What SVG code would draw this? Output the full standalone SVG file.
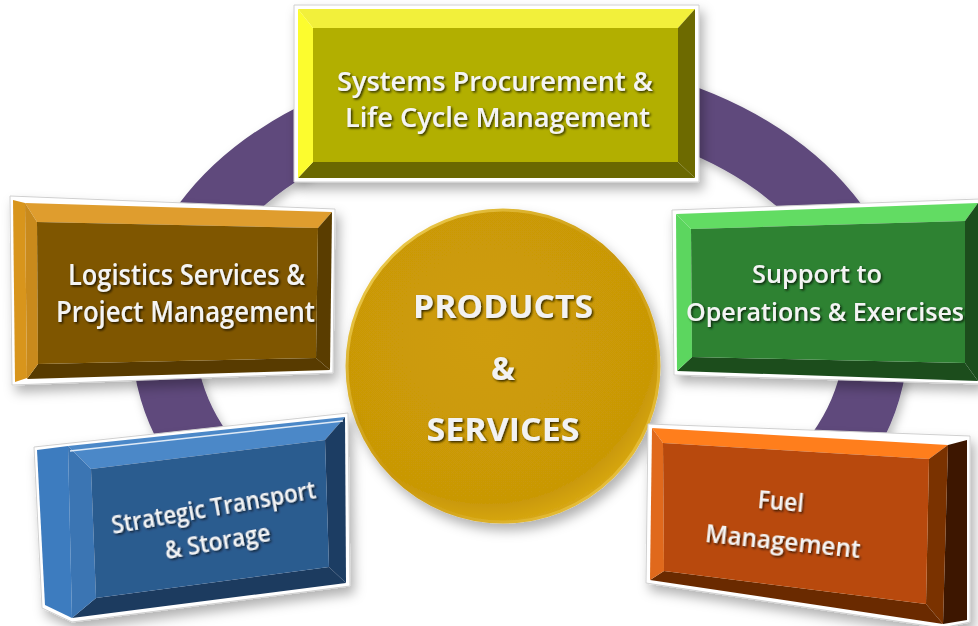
<svg xmlns="http://www.w3.org/2000/svg" width="978" height="626" viewBox="0 0 978 626">
<defs>
<filter id="sh" x="-20%" y="-20%" width="140%" height="150%">
<feDropShadow dx="4" dy="7" stdDeviation="6" flood-color="#000" flood-opacity="0.3"/>
</filter>
<filter id="ringsh" x="-10%" y="-10%" width="120%" height="130%">
<feDropShadow dx="3" dy="5" stdDeviation="5" flood-color="#000" flood-opacity="0.25"/>
</filter>
<filter id="tsh" x="-10%" y="-30%" width="120%" height="160%">
<feDropShadow dx="1.5" dy="1.5" stdDeviation="1" flood-color="#000" flood-opacity="0.75"/>
</filter>
<radialGradient id="gold" cx="0.45" cy="0.4" r="0.6">
<stop offset="0" stop-color="#cf9d08"/>
<stop offset="0.9" stop-color="#c99806"/>
<stop offset="1" stop-color="#d6a612"/>
</radialGradient>
<linearGradient id="rim" x1="0" y1="0" x2="1" y2="1">
<stop offset="0" stop-color="#f5d860"/>
<stop offset="0.5" stop-color="#c9970a"/>
<stop offset="1" stop-color="#f0cc4a"/>
</linearGradient>
</defs>
<style>
.border{fill:#ffffff;stroke:#d0d0d0;stroke-width:1}
.lbl{font-family:"Open Sans",Lato,"Liberation Sans",sans-serif;font-weight:600;fill:#f4f4f4;text-anchor:middle;filter:url(#tsh)}
.big{font-family:"Open Sans",Lato,"Liberation Sans",sans-serif;font-weight:bold;fill:#f2f2f2;text-anchor:middle;filter:url(#tsh)}
</style>
<rect width="978" height="626" fill="#ffffff"/>

<g id="ring" filter="url(#ringsh)">
<path d="M216,470 A356,251 0 1 1 824,470" fill="none" stroke="#5e4a7b" stroke-width="64"/>
</g>

<g id="connectors"></g>

<g id="center" filter="url(#sh)">
<circle cx="503" cy="366" r="156" fill="url(#gold)" stroke="url(#rim)" stroke-width="3"/>
<text class="big" x="503" y="318" font-size="32" textLength="180" lengthAdjust="spacingAndGlyphs">PRODUCTS</text>
<text class="big" x="503" y="380" font-size="32">&amp;</text>
<text class="big" x="503" y="441" font-size="32" textLength="153" lengthAdjust="spacingAndGlyphs">SERVICES</text>
</g>

<g id="box-top" filter="url(#sh)">
<polygon class="border" points="294,5 699,5 699,182 294,182"/>
<polygon fill="#f2f03a" points="298,9 695,9 678,28 313,28"/>
<polygon fill="#6d6b00" points="695,9 695,178 678,162 678,28"/>
<polygon fill="#6a6800" points="695,178 298,178 313,162 678,162"/>
<polygon fill="#fcfc2e" points="298,178 298,9 313,28 313,162"/>
<polygon fill="#b2af00" points="313,28 678,28 678,162 313,162"/>
<text class="lbl" x="495" y="91" font-size="27" textLength="316" lengthAdjust="spacingAndGlyphs">Systems Procurement &amp;</text>
<text class="lbl" x="497.5" y="127" font-size="27" textLength="305" lengthAdjust="spacingAndGlyphs">Life Cycle Management</text>
</g>

<g id="box-left" filter="url(#sh)">
<polygon class="border" points="10,196 335,209 333,373 12,385"/>
<polygon fill="#d8951f" points="13,200 25,203 27,378 15,382"/>
<polygon fill="#df9d2e" points="25,203 332,212 318,228 37,222"/>
<polygon fill="#5a3d00" points="332,212 330,370 316,358 318,228"/>
<polygon fill="#583b00" points="330,370 27,379 38,364 316,358"/>
<polygon fill="#c98a1c" points="27,379 25,203 37,222 38,364"/>
<polygon fill="#7f5600" points="37,222 318,228 316,358 38,364"/>
<text class="lbl" x="186.5" y="285" font-size="28" textLength="237" lengthAdjust="spacingAndGlyphs">Logistics Services &amp;</text>
<text class="lbl" x="185.5" y="322" font-size="28" textLength="259" lengthAdjust="spacingAndGlyphs">Project Management</text>
</g>

<g id="box-right" filter="url(#sh)">
<polygon class="border" points="672,210 980,199 980,384 674,375"/>
<polygon fill="#62dc64" points="676,214 978,203 965,221 691,229"/>
<polygon fill="#1c4e1d" points="978,203 978,381 965,363 965,221"/>
<polygon fill="#1d4d1e" points="978,381 677,371 692,357 965,363"/>
<polygon fill="#5bd65e" points="677,371 676,214 691,229 692,357"/>
<polygon fill="#2d8231" points="691,229 965,221 965,363 692,357"/>
<text class="lbl" x="817" y="283" font-size="26" textLength="130" lengthAdjust="spacingAndGlyphs">Support to</text>
<text class="lbl" x="825" y="321" font-size="26" textLength="278" lengthAdjust="spacingAndGlyphs">Operations &amp; Exercises</text>
</g>

<g id="box-bottom-left" filter="url(#sh)">
<polygon class="border" points="34,447 348,413 350,586 72,622 42,608"/>
<polygon fill="#3e7cbf" points="37,450 68,446 72,618 45,605"/>
<polygon fill="#4b88c8" points="68,446 345,417 325,440 91,469"/>
<polygon fill="#1e3d63" points="345,417 346,583 329,567 325,440"/>
<polygon fill="#1c3a5f" points="346,583 72,618 96,598 329,567"/>
<polygon fill="#3a74b3" points="72,618 68,446 91,469 96,598"/>
<polygon fill="#2c5b8f" points="91,469 325,440 329,567 96,598"/>
<line x1="70" y1="451" x2="343" y2="421" stroke="#dfeaf6" stroke-width="1.5"/>
<text class="lbl" x="215" y="516" font-size="26" textLength="207" lengthAdjust="spacingAndGlyphs" transform="rotate(-10 215 516)">Strategic Transport</text>
<text class="lbl" x="219" y="550" font-size="26" textLength="107" lengthAdjust="spacingAndGlyphs" transform="rotate(-10 219 550)">&amp; Storage</text>
</g>

<g id="box-bottom-right" filter="url(#sh)">
<polygon class="border" points="648,424 970,436 970,622 942,628 646,583"/>
<polygon fill="#3c1800" points="948,445 967,440 967,620 943,624"/>
<polygon fill="#ff7e1f" points="652,428 948,445 929,459 663,443"/>
<polygon fill="#7a3100" points="948,445 943,624 926,604 929,459"/>
<polygon fill="#6a2b00" points="943,624 650,580 664,571 926,604"/>
<polygon fill="#e0691a" points="650,580 652,428 663,443 664,571"/>
<polygon fill="#b8490a" points="663,443 929,459 926,604 664,571"/>
<text class="lbl" x="780" y="510" font-size="26" textLength="46" lengthAdjust="spacingAndGlyphs" transform="rotate(5 780 510)">Fuel</text>
<text class="lbl" x="782" y="550" font-size="26" textLength="156" lengthAdjust="spacingAndGlyphs" transform="rotate(6 782 550)">Management</text>
</g>
</svg>
